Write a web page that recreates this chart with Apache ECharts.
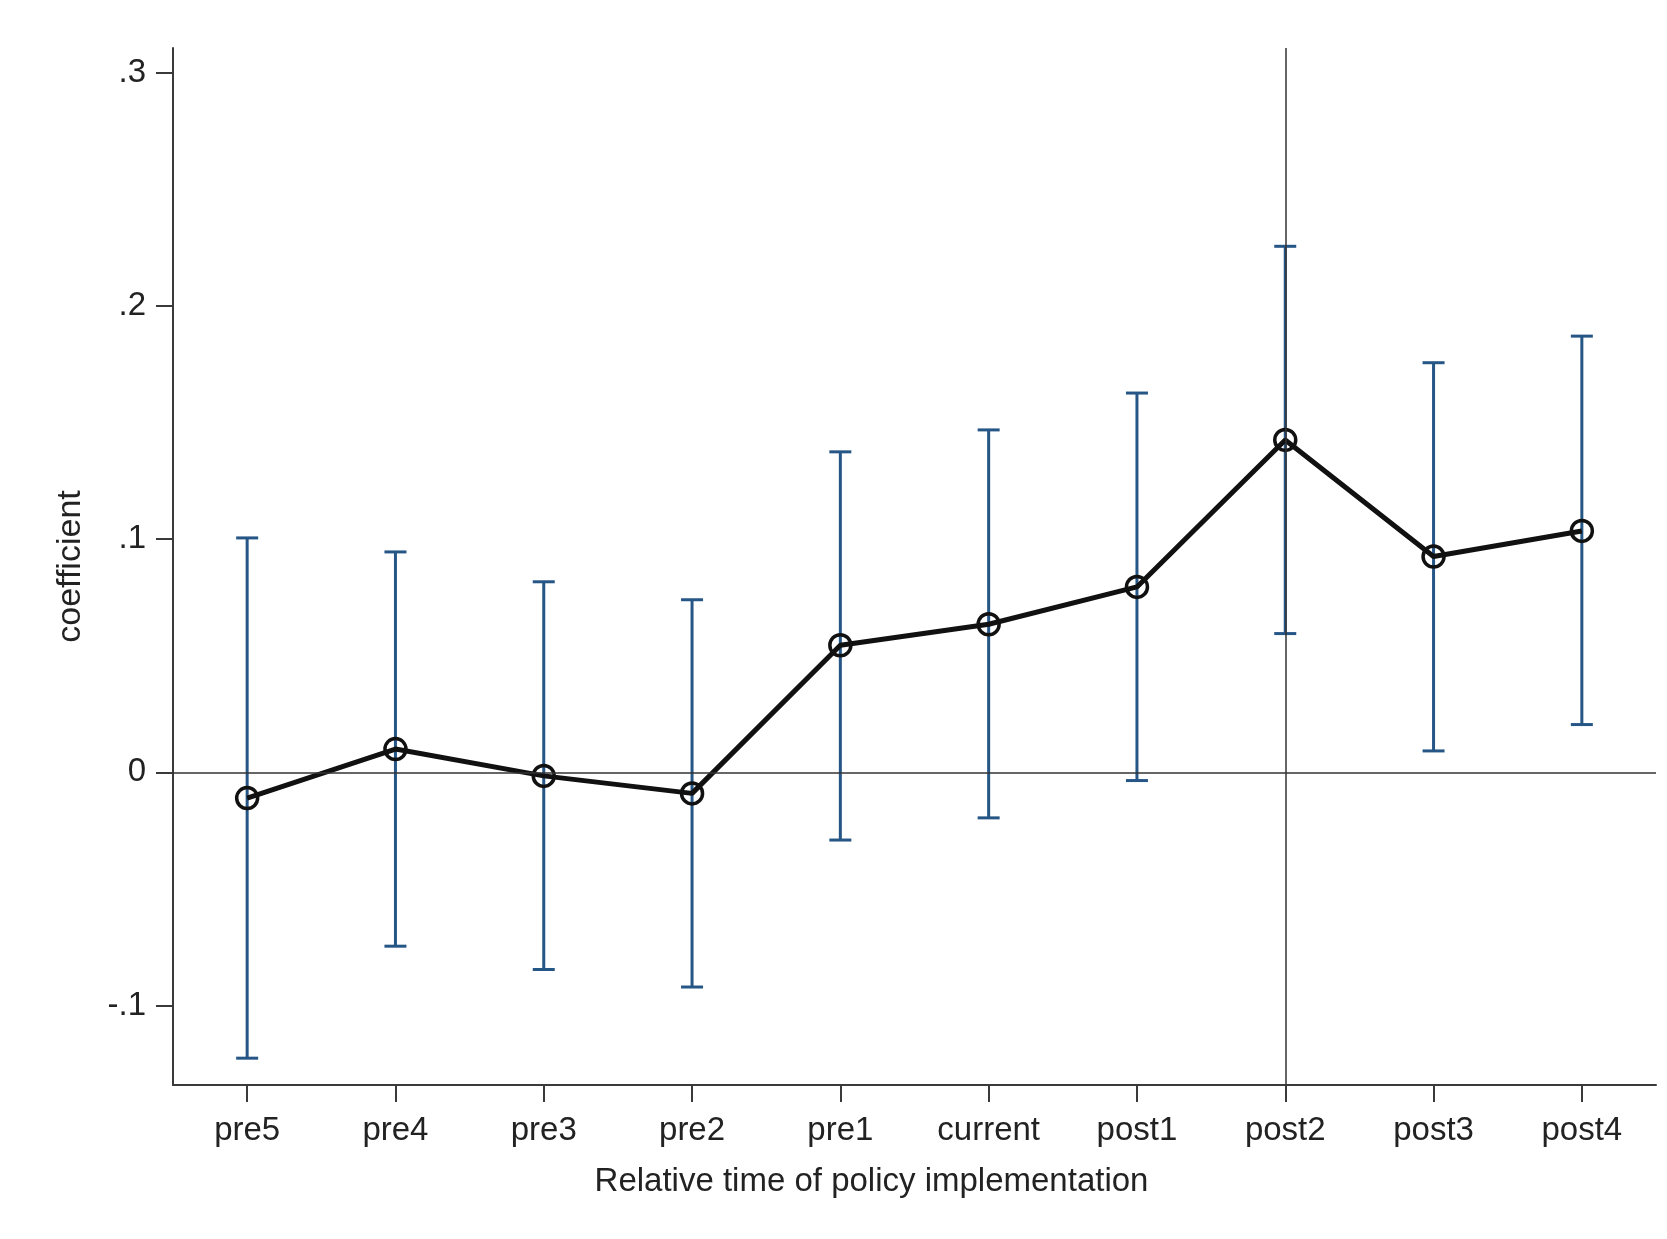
<!DOCTYPE html>
<html>
<head>
<meta charset="utf-8">
<script src="https://cdn.jsdelivr.net/npm/echarts@6/dist/echarts.min.js"></script>
<style>
  html, body { margin: 0; padding: 0; background: #fff; }
  #chart { width: 1667px; height: 1239px; }
</style>
</head>
<body>
<div id="chart"></div>
<script>
const categories = ["pre5", "pre4", "pre3", "pre2", "pre1", "current", "post1", "post2", "post3", "post4"];
const coef  = [-0.011, 0.010, -0.0015, -0.009, 0.0545, 0.0635, 0.0795, 0.1425, 0.0925, 0.1035];
const lower = [-0.1225, -0.0745, -0.0845, -0.092, -0.029, -0.0195, -0.0035, 0.0595, 0.0092, 0.0205];
const upper = [0.1005, 0.0945, 0.0817, 0.074, 0.1374, 0.1468, 0.1626, 0.2255, 0.1756, 0.1870];
const yTickValues = [-0.1, 0, 0.1, 0.2, 0.3];
const yTickLabels = ["-.1", "0", ".1", ".2", ".3"];
const eventCategory = "post2";

const BAR_COLOR = "#265686";
const AXIS_COLOR = "#3a3a3a";
const FONT = "Liberation Sans, Arial, sans-serif";

const chart = echarts.init(document.getElementById('chart'), null, { renderer: 'canvas' });

const option = {
  animation: false,
  backgroundColor: '#ffffff',
  grid: { left: 173, right: 11, top: 48, bottom: 154, containLabel: false },
  xAxis: {
    type: 'category',
    data: categories,
    boundaryGap: true,
    name: 'Relative time of policy implementation',
    nameLocation: 'middle',
    nameGap: 80,
    nameTextStyle: { fontFamily: FONT, fontSize: 33, color: '#222', padding: [0, 86, 0, 0] },
    axisLine: { show: true, onZero: false, lineStyle: { color: AXIS_COLOR, width: 2 } },
    axisTick: { show: true, alignWithLabel: true, length: 17, lineStyle: { color: AXIS_COLOR, width: 2 } },
    axisLabel: { fontFamily: FONT, fontSize: 33, color: '#222', margin: 29 },
    splitLine: { show: false }
  },
  yAxis: {
    type: 'value',
    min: -0.134,
    max: 0.3105,
    name: 'coefficient',
    nameLocation: 'middle',
    nameGap: 85,
    nameRotate: 90,
    nameTextStyle: { fontFamily: FONT, fontSize: 34, color: '#222' },
    axisLine: { show: true, onZero: false, lineStyle: { color: AXIS_COLOR, width: 2 } },
    axisTick: { show: true, length: 17, customValues: yTickValues, lineStyle: { color: AXIS_COLOR, width: 2 } },
    axisLabel: {
      fontFamily: FONT, fontSize: 33, color: '#222', margin: 27,
      customValues: yTickValues,
      formatter: function (v) {
        let best = 0, bd = Infinity;
        yTickValues.forEach((t, i) => { const d = Math.abs(t - v); if (d < bd) { bd = d; best = i; } });
        return yTickLabels[best];
      }
    },
    splitLine: { show: false }
  },
  series: [
    {
      type: 'custom',
      z: 2,
      data: categories.map((c, i) => [i, lower[i], upper[i]]),
      encode: { x: 0, y: [1, 2] },
      renderItem: function (params, api) {
        const x = api.value(0);
        const lo = api.coord([x, api.value(1)]);
        const hi = api.coord([x, api.value(2)]);
        const hw = 11;
        const st = { stroke: BAR_COLOR, lineWidth: 3 };
        return {
          type: 'group',
          children: [
            { type: 'line', shape: { x1: lo[0], y1: lo[1], x2: hi[0], y2: hi[1] }, style: st },
            { type: 'line', shape: { x1: lo[0] - hw, y1: lo[1], x2: lo[0] + hw, y2: lo[1] }, style: st },
            { type: 'line', shape: { x1: hi[0] - hw, y1: hi[1], x2: hi[0] + hw, y2: hi[1] }, style: st }
          ]
        };
      }
    },
    {
      type: 'line',
      z: 3,
      data: coef,
      symbol: 'circle',
      symbolSize: 21,
      showAllSymbol: true,
      lineStyle: { color: '#111', width: 5 },
      itemStyle: { color: 'rgba(0,0,0,0)', borderColor: '#111', borderWidth: 3.5 },
      markLine: {
        silent: true,
        symbol: ['none', 'none'],
        label: { show: false },
        lineStyle: { color: '#333', width: 1.5, type: 'solid' },
        data: [{ xAxis: eventCategory }, { yAxis: 0 }]
      }
    }
  ]
};

chart.setOption(option);
</script>
</body>
</html>
